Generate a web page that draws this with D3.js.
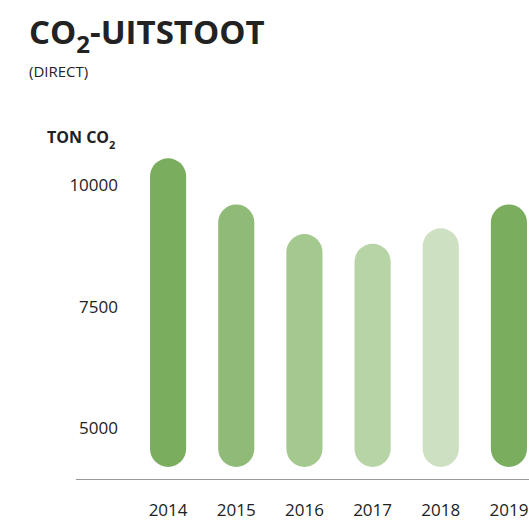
<!DOCTYPE html>
<html>
<head>
<meta charset="utf-8">
<script src="https://cdn.jsdelivr.net/npm/d3@7"></script>
<style>
  body { margin: 0; background: #fff; }
  text { font-family: "Open Sans", "Noto Sans", sans-serif; fill: #222; }
</style>
</head>
<body>
<div id="chart"></div>
<script>
var years = ["2014", "2015", "2016", "2017", "2018", "2019"];
var values = [10550, 9600, 8990, 8790, 9110, 9600];
var colors = ["#7aad5e", "#8fba77", "#a3c98e", "#b7d4a7", "#cde0c1", "#7aad5e"];
var yTicks = [5000, 7500, 10000];
var barBase = 4200;

var width = 529, height = 522;

var svg = d3.select("#chart").append("svg")
    .attr("width", width)
    .attr("height", height);

var x = d3.scaleBand()
    .domain(years)
    .range([134, 543])
    .paddingInner(0.47)
    .paddingOuter(0.235);

var y = d3.scaleLinear()
    .domain([5000, 10000])
    .range([428, 185]);

// title
var title = svg.append("text")
    .attr("x", 29).attr("y", 44)
    .style("font-size", "33px").style("font-weight", "bold");
title.append("tspan").text("CO");
title.append("tspan").attr("dy", 9).style("font-size", "24px").text("2");
title.append("tspan").attr("dy", -9).text("-UITSTOOT");

svg.append("text")
    .attr("x", 29).attr("y", 77)
    .style("font-size", "15px")
    .text("(DIRECT)");

var ylab = svg.append("text")
    .attr("x", 47).attr("y", 143)
    .style("font-size", "16px").style("font-weight", "bold");
ylab.append("tspan").text("TON CO");
ylab.append("tspan").attr("dy", 6).style("font-size", "11px").text("2");

// y tick labels
svg.selectAll(".ytick")
    .data(yTicks)
  .enter().append("text")
    .attr("class", "ytick")
    .attr("x", 118)
    .attr("y", function(d) { return y(d) + 6; })
    .attr("text-anchor", "end")
    .style("font-size", "17px")
    .text(function(d) { return d; });

// bars
var bw = x.bandwidth();
svg.selectAll(".bar")
    .data(values)
  .enter().append("rect")
    .attr("class", "bar")
    .attr("x", function(d, i) { return x(years[i]); })
    .attr("y", function(d) { return y(d); })
    .attr("width", bw)
    .attr("height", function(d) { return y(barBase) - y(d); })
    .attr("rx", bw / 2)
    .attr("ry", bw / 2)
    .attr("fill", function(d, i) { return colors[i]; });

// baseline
svg.append("line")
    .attr("x1", 76).attr("x2", width)
    .attr("y1", 479.5).attr("y2", 479.5)
    .attr("stroke", "#999").attr("stroke-width", 1);

// x labels
svg.selectAll(".xlab")
    .data(years)
  .enter().append("text")
    .attr("class", "xlab")
    .attr("x", function(d) { return x(d) + bw / 2; })
    .attr("y", 516)
    .attr("text-anchor", "middle")
    .style("font-size", "17px")
    .text(function(d) { return d; });
</script>
</body>
</html>
